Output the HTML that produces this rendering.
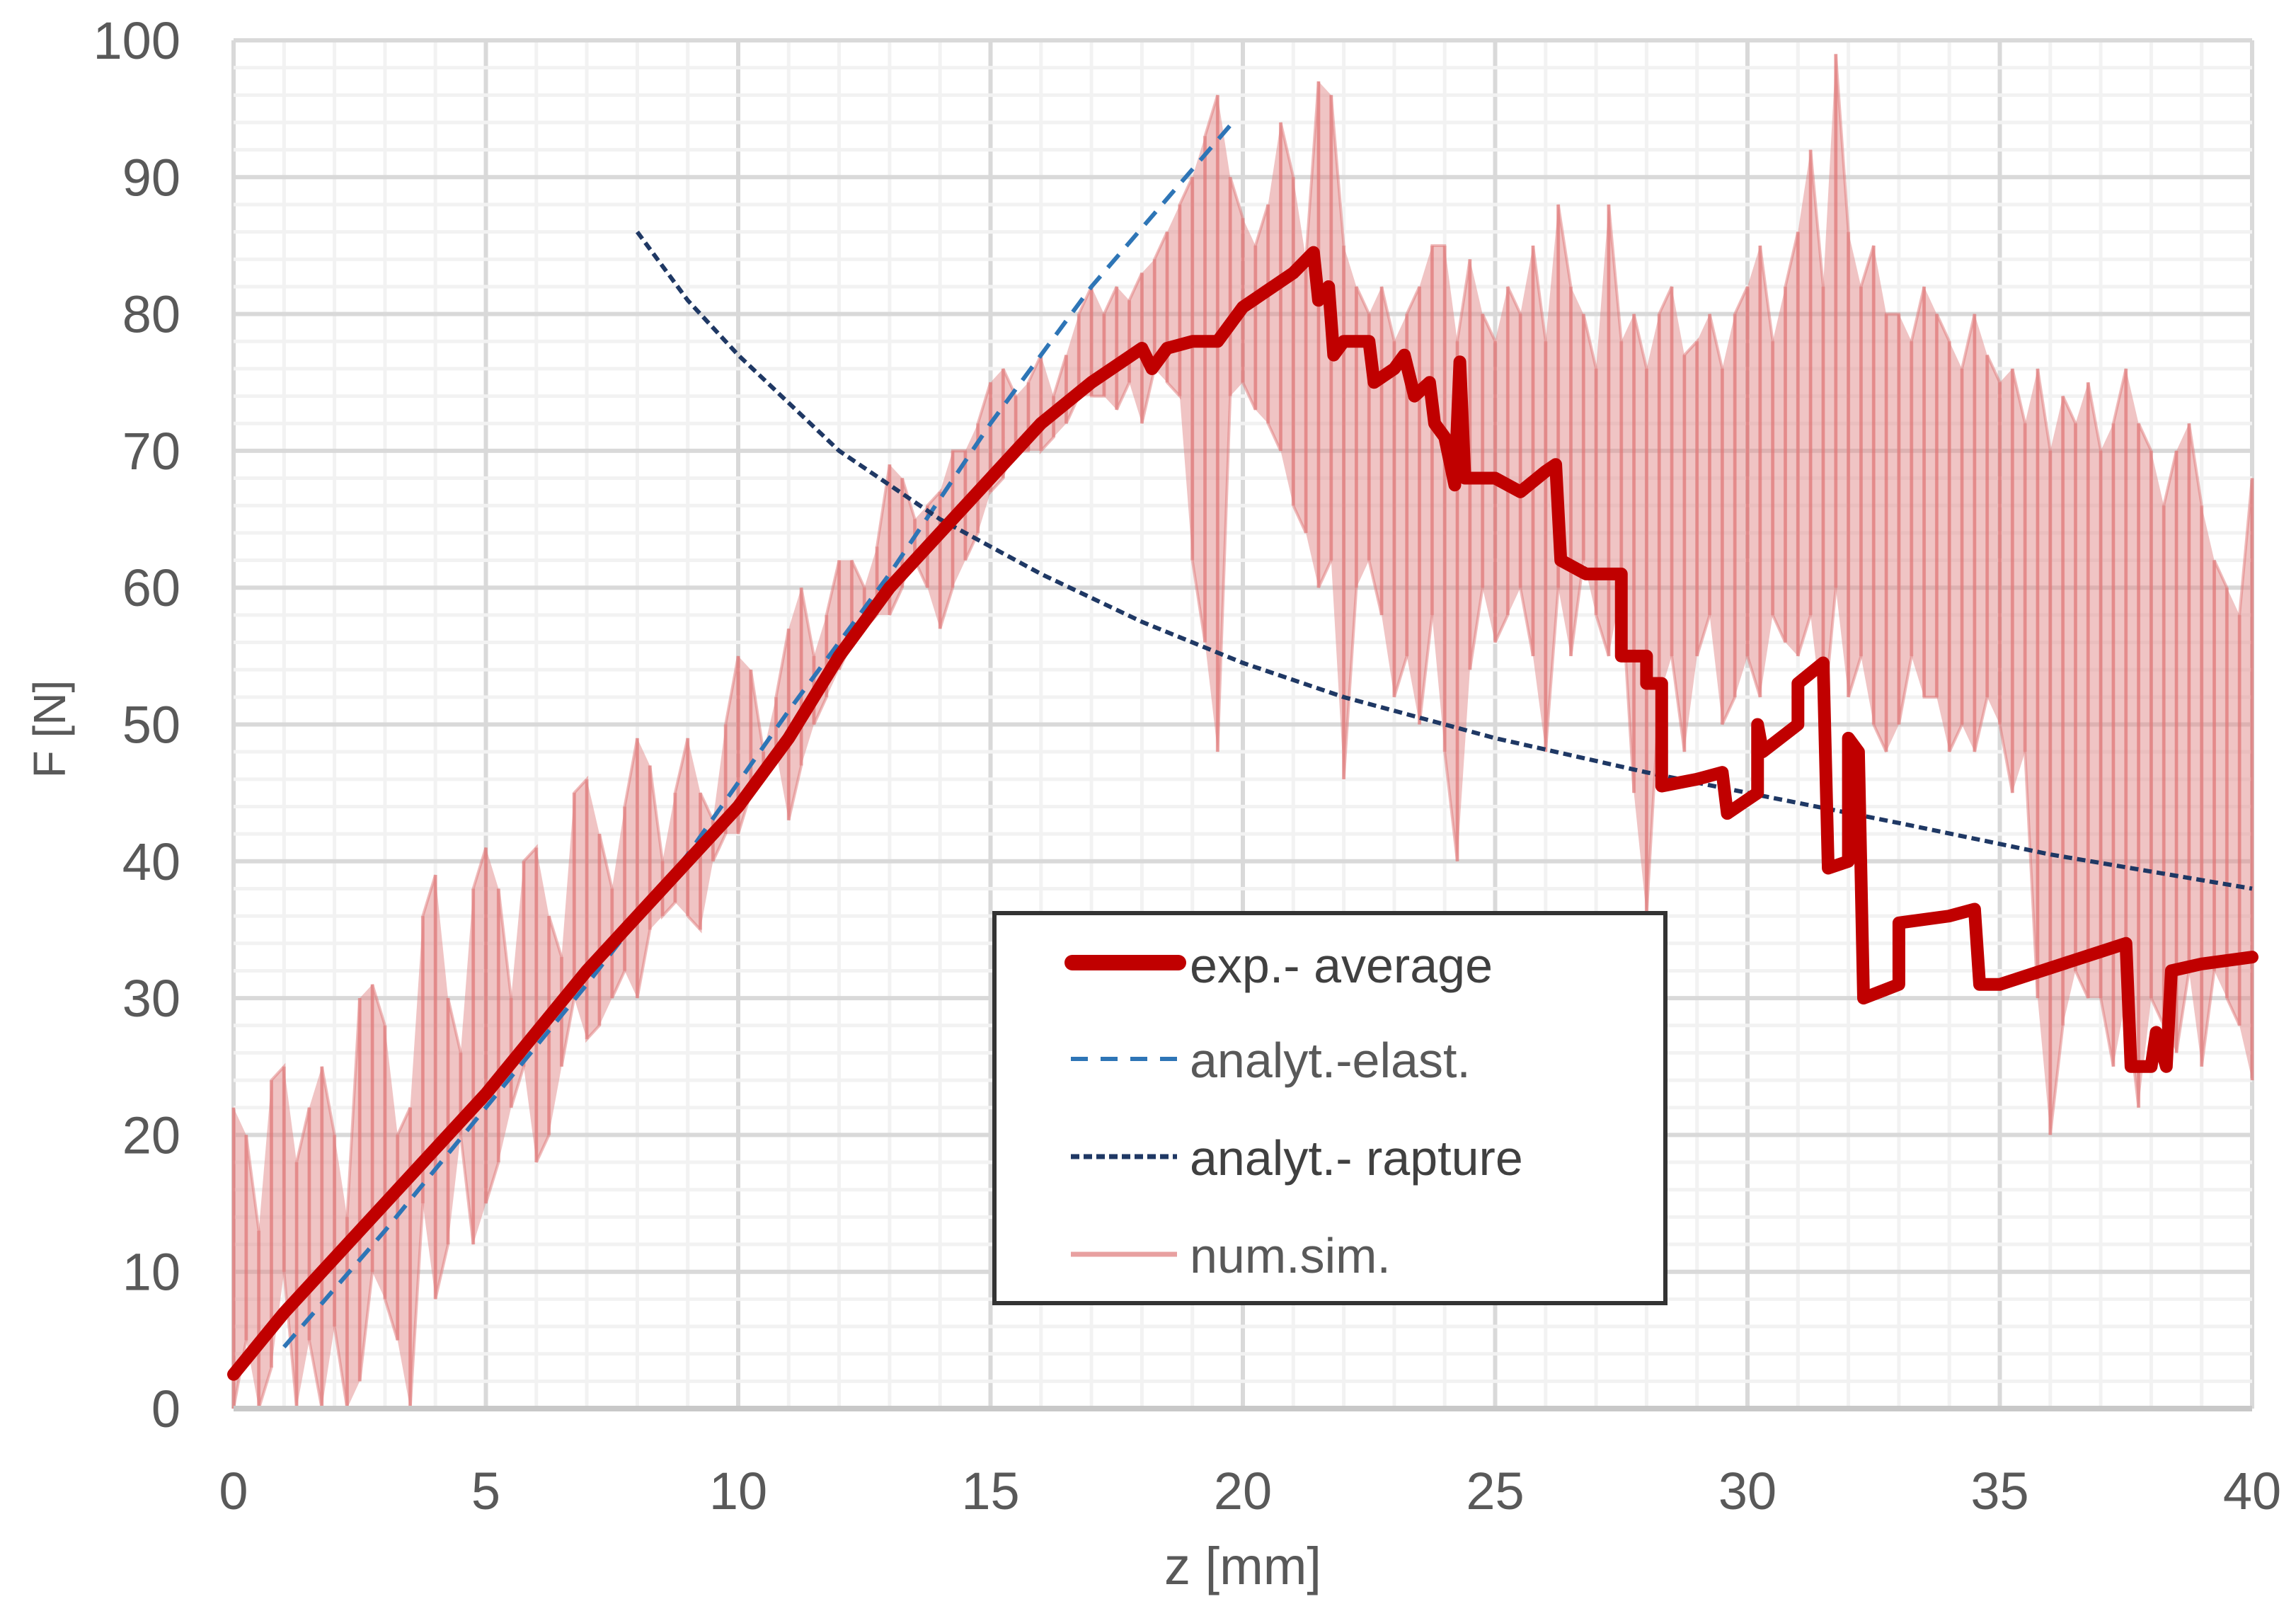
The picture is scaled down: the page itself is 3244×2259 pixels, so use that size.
<!DOCTYPE html>
<html><head><meta charset="utf-8"><style>
html,body{margin:0;padding:0;background:#fff;}
svg{display:block;font-family:"Liberation Sans",sans-serif;}
</style></head><body>
<svg id="chart" width="3244" height="2259" viewBox="0 0 3244 2259" xmlns="http://www.w3.org/2000/svg">
<g id="grid"></g>
<g id="sim"></g>
<g id="lines"></g>
<g id="exp"></g>
<g id="axes"></g>
<text x="1756" y="2238" font-size="74" fill="#595959" text-anchor="middle">z [mm]</text>
<text x="0" y="0" font-size="64" fill="#595959" text-anchor="middle" transform="translate(92,1030) rotate(-90)">F [N]</text>
<g>
<rect x="1405" y="1290" width="948" height="551" fill="#fff" stroke="#333" stroke-width="6"/>
<g>
<line x1="1515" y1="1360" x2="1665" y2="1360" stroke="#C00000" stroke-width="22" stroke-linecap="round"/>
<text x="1681" y="1388" font-size="70" fill="#404040">exp.- average</text></g>
<g>
<line x1="1513" y1="1496" x2="1663" y2="1496" stroke="#2E75B6" stroke-width="6" stroke-dasharray="24,18"/>
<text x="1681" y="1522" font-size="70" fill="#595959">analyt.-elast.</text></g>
<g>
<line x1="1513" y1="1634" x2="1663" y2="1634" stroke="#1F3864" stroke-width="7" stroke-dasharray="12,6"/>
<text x="1681" y="1660" font-size="70" fill="#404040">analyt.- rapture</text></g>
<g>
<line x1="1513" y1="1772" x2="1663" y2="1772" stroke="#E8A0A0" stroke-width="7"/>
<text x="1681" y="1798" font-size="70" fill="#595959">num.sim.</text></g>
</g>
</svg>
<script>
const xTicks=[0,5,10,15,20,25,30,35,40];
const yTicks=[0,10,20,30,40,50,60,70,80,90,100];
const expX=[0,1,3,5,7,9,10,11,12,13,14,15,16,17,18,18.2,18.5,19,19.5,20,21,21.4,21.5,21.7,21.8,22,22.5,22.6,23,23.2,23.4,23.7,23.8,24,24.2,24.3,24.4,25,25.5,26,26.2,26.3,26.8,27.5,27.5,28,28,28.3,28.3,29,29.5,29.6,30,30.2,30.2,30.3,31,31,31.5,31.6,32,32,32.2,32.3,33,33,34,34.5,34.6,35,37.5,37.6,38,38.1,38.3,38.4,39,40];
const expY=[2.5,7,15,23,32,40,44,49,55,60,64,68,72,75,77.5,76,77.5,78,78,80.5,83,84.5,81,82,77,78,78,75,76,77,74,75,72,71,67.5,76.5,68,68,67,68.5,69,62,61,61,55,55,53,53,45.5,46,46.5,43.5,44.5,45,50,48,50,53,54.5,39.5,40,49,48,30,31,35.5,36,36.5,31,31,34,25,25,27.5,25,32,32.5,33];
const elastX=[1,3,5,7,9,11,13,15,17,19.8];
const elastY=[4.5,13,22,31,40.5,51,61,72,82,94];
const raptX=[8,9,10,12,14,16,18,20,22,25,28,30,33,36,40];
const raptY=[86,81,77,70,65,61,57.5,54.5,52,49,46.5,45,42.8,40.5,38];
const simStep=0.25;
const simHi=[22,20,13,24,25,18,22,25,20,14,30,31,28,20,22,36,39,30,26,38,41,38,30,40,41,36,33,45,46,42,38,44,49,47,40,45,49,45,43,50,55,54,48,52,57,60,55,58,62,62,60,63,69,68,65,66,67,70,70,72,75,76,74,75,77,74,77,80,82,80,82,81,83,84,86,88,90,93,96,90,87,85,88,94,90,84,97,96,85,82,80,82,78,80,82,85,85,78,84,80,78,82,80,85,78,88,82,80,76,88,78,80,76,80,82,77,78,80,76,80,82,85,78,82,86,92,82,99,86,82,85,80,80,78,82,80,78,76,80,77,75,76,72,76,70,74,72,75,70,72,76,72,70,66,70,72,66,62,60,58,68];
const simLo=[0,5,0,3,10,0,5,0,6,0,2,10,8,5,0,15,8,12,20,12,15,18,22,25,18,20,25,30,27,28,30,32,30,35,36,37,36,35,40,42,42,45,46,48,43,47,50,52,54,56,57,58,58,60,62,60,57,60,62,64,67,68,70,70,70,71,72,74,74,74,73,75,72,76,75,74,62,56,48,74,75,73,72,70,66,64,60,62,46,60,62,58,52,55,50,58,48,40,54,60,56,58,60,55,48,60,55,62,58,55,60,45,36,52,55,48,55,58,50,52,55,52,58,56,55,58,50,60,52,55,50,48,50,55,52,52,48,50,48,52,50,45,48,30,20,28,32,30,30,25,30,22,30,28,26,32,25,32,30,28,24];

const X0=330,X1=3182,Y0=1990,Y1=57;
const sx=v=>X0+(v-0)*(X1-X0)/40;
const sy=v=>Y0-(v-0)*(Y0-Y1)/100;
const NS="http://www.w3.org/2000/svg";
function mk(tag,attrs,parent){const e=document.createElementNS(NS,tag);for(const k in attrs)e.setAttribute(k,attrs[k]);parent.appendChild(e);return e;}
const grid=document.getElementById('grid');
for(let v=0;v<=40;v+=1){
  const major=v%5===0;
  const l=mk('line',{x1:sx(v),x2:sx(v),y1:Y1,y2:Y0,stroke:major?'#d9d9d9':'#f2f2f2','stroke-width':major?6:5},grid);
  
  
}
for(let v=0;v<=100;v+=2){
  const major=v%10===0;
  const l=mk('line',{x1:X0,x2:X1,y1:sy(v),y2:sy(v),stroke:major?'#d9d9d9':'#f2f2f2','stroke-width':major?6:5},grid);
  
  
}
const axes=document.getElementById('axes');
const xa=mk('line',{x1:X0,x2:X1,y1:Y0,y2:Y0,stroke:'#c8c8c8','stroke-width':8},axes);


xTicks.forEach(t=>{
  const e=mk('text',{x:sx(t),y:2132,'font-size':74,fill:'#595959','text-anchor':'middle'},axes);
  e.textContent=t;
  
  
});
yTicks.forEach(t=>{
  const e=mk('text',{x:255,y:sy(t)+26,'font-size':74,fill:'#595959','text-anchor':'end'},axes);
  e.textContent=t;
  
  
});
const sim=document.getElementById('sim');
let topPts=[],botPts=[],zig=[];
simHi.forEach((h,i)=>{const x=sx(i*simStep);topPts.push(x+','+sy(h));botPts.unshift(x+','+sy(simLo[i]));zig.push(x+','+sy(i%2?simLo[i]:h));zig.push(x+','+sy(i%2?h:simLo[i]));});
const band=mk('polygon',{points:topPts.concat(botPts).join(' '),fill:'#E28A8A','fill-opacity':0.5},sim);


simHi.forEach((h,i)=>{
  const l=mk('line',{x1:sx(i*simStep),x2:sx(i*simStep),y1:sy(h),y2:sy(simLo[i]),stroke:'#E07878','stroke-width':5,'stroke-opacity':0.5},sim);
  
  
});
const zl=mk('polyline',{points:zig.join(' '),fill:'none',stroke:'#E07878','stroke-width':4,'stroke-opacity':0.5},sim);


const lines=document.getElementById('lines');
const el=mk('polyline',{points:elastX.map((x,i)=>sx(x)+','+sy(elastY[i])).join(' '),fill:'none',stroke:'#2E75B6','stroke-width':6,'stroke-dasharray':'24,16'},lines);


const rp=mk('polyline',{points:raptX.map((x,i)=>sx(x)+','+sy(raptY[i])).join(' '),fill:'none',stroke:'#1F3864','stroke-width':6,'stroke-dasharray':'12,7'},lines);


const ex=mk('polyline',{points:expX.map((x,i)=>sx(x)+','+sy(expY[i])).join(' '),fill:'none',stroke:'#C00000','stroke-width':18,'stroke-linejoin':'round','stroke-linecap':'round'},document.getElementById('exp'));


</script>
</body></html>
